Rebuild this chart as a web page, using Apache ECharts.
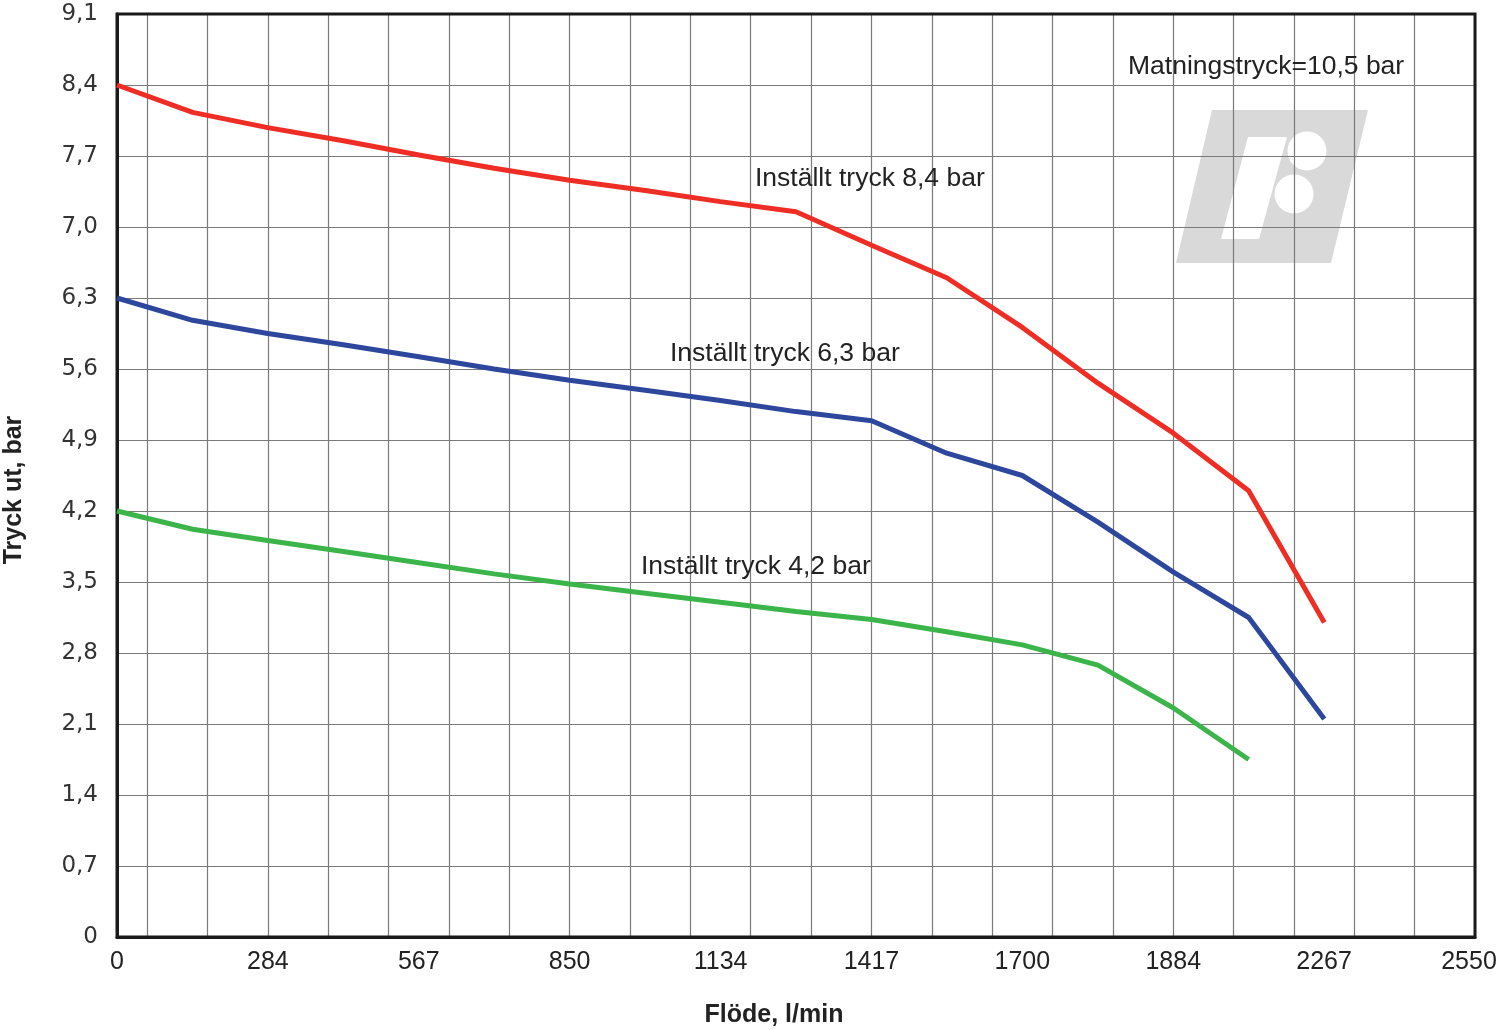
<!DOCTYPE html>
<html>
<head>
<meta charset="utf-8">
<script src="https://cdn.jsdelivr.net/npm/echarts@6/dist/echarts.min.js"></script>
<style>html,body{margin:0;padding:0;background:#fff;}#c{width:1500px;height:1030px;}</style>
</head>
<body>
<div id="c"></div>
<script>
// ---- data ----
const flow = [0, 142, 283, 425, 567, 708, 850, 992, 1133, 1275, 1417, 1558, 1700, 1842, 1983, 2125, 2267];
const set84 = [8.4, 8.13, 7.98, 7.85, 7.71, 7.58, 7.46, 7.36, 7.25, 7.15, 6.82, 6.50, 6.01, 5.46, 4.97, 4.40, 3.10];
const set63 = [6.3, 6.08, 5.95, 5.84, 5.72, 5.60, 5.49, 5.39, 5.29, 5.18, 5.09, 4.77, 4.55, 4.09, 3.60, 3.15, 2.15];
const set42 = [4.2, 4.02, 3.91, 3.80, 3.69, 3.58, 3.48, 3.39, 3.30, 3.21, 3.13, 3.01, 2.88, 2.68, 2.26, 1.75];
const xTickLabels = ['0', '284', '567', '850', '1134', '1417', '1700', '1884', '2267', '2550'];
const yTickLabels = ['0', '0,7', '1,4', '2,1', '2,8', '3,5', '4,2', '4,9', '5,6', '6,3', '7,0', '7,7', '8,4', '9,1'];
const seriesNames = ['Inställt tryck 8,4 bar', 'Inställt tryck 6,3 bar', 'Inställt tryck 4,2 bar'];
const xTitle = 'Flöde, l/min';
const yTitle = 'Tryck ut, bar';
const supplyText = 'Matningstryck=10,5 bar';

const xMax = 2550, xStep = 2550 / 9;
const yMax = 9.1, yStep = 0.7;

function pairs(xs, ys) { return ys.map((v, i) => [xs[i], v]); }

const chart = echarts.init(document.getElementById('c'));
const font = '"Liberation Sans", Arial, Helvetica, sans-serif';
const grey = '#d9d9d9';

chart.setOption({
  animation: false,
  backgroundColor: '#ffffff',
  grid: { left: 117, right: 25, top: 14, bottom: 93, containLabel: false, outerBoundsMode: 'none',
          show: true, borderColor: '#1a1a1a', borderWidth: 3, backgroundColor: 'transparent', z: 3 },
  xAxis: [
    {
      type: 'value', min: 0, max: xMax, interval: xStep, position: 'bottom',
      axisLine: { show: true, lineStyle: { color: '#1a1a1a', width: 3 } },
      axisTick: { show: false },
      splitLine: { show: false },
      axisLabel: {
        margin: 13, color: '#222', fontSize: 25, fontFamily: font,
        formatter: function (v) {
          const i = Math.round(v / xStep);
          return i === xTickLabels.length - 1 ? '{last|' + xTickLabels[i] + '}' : xTickLabels[i];
        },
        rich: { last: { color: '#222', fontSize: 25, fontFamily: font, padding: [0, 12, 0, 0] } }
      }
    },
    {
      // minor vertical grid: half-step offset from the left border
      type: 'value', min: 0, max: 22.5, interval: 1, inverse: true, position: 'top',
      axisLine: { show: false }, axisTick: { show: false }, axisLabel: { show: false },
      splitLine: { show: true, lineStyle: { color: '#7a7a7a', width: 1.2 } }
    }
  ],
  yAxis: {
    type: 'value', min: 0, max: yMax, interval: yStep,
    axisLine: { show: true, lineStyle: { color: '#1a1a1a', width: 3 } },
    axisTick: { show: false },
    splitLine: { show: true, lineStyle: { color: '#7a7a7a', width: 1.2 } },
    axisLabel: {
      margin: 19, color: '#333', fontSize: 23, fontFamily: '"DejaVu Sans", sans-serif',
      formatter: function (v) { return yTickLabels[Math.round(v / yStep)]; }
    }
  },
  series: [
    { name: seriesNames[0], type: 'line', data: pairs(flow, set84), showSymbol: false, lineStyle: { color: '#ee2e24', width: 5 }, z: 5 },
    { name: seriesNames[1], type: 'line', data: pairs(flow, set63), showSymbol: false, lineStyle: { color: '#2d479d', width: 5 }, z: 5 },
    { name: seriesNames[2], type: 'line', data: pairs(flow, set42), showSymbol: false, lineStyle: { color: '#3bb54a', width: 5 }, z: 5 }
  ],
  graphic: [
    // watermark logo (behind grid lines)
    { type: 'polygon', z: -10, shape: { points: [[1212, 110], [1368, 110], [1331, 263], [1176, 263]] }, style: { fill: grey } },
    { type: 'polygon', z: -9, shape: { points: [[1248, 137], [1287, 137], [1259, 239], [1221, 239]] }, style: { fill: '#fff' } },
    { type: 'circle', z: -9, shape: { cx: 1307, cy: 151, r: 19.5 }, style: { fill: '#fff' } },
    { type: 'circle', z: -9, shape: { cx: 1294, cy: 194, r: 19.5 }, style: { fill: '#fff' } },
    // annotations
    { type: 'text', z: 10, left: 1128, top: 53, style: { text: supplyText, font: '26.5px ' + font, fill: '#222' } },
    { type: 'text', z: 10, left: 755, top: 165, style: { text: seriesNames[0], font: '26.5px ' + font, fill: '#222' } },
    { type: 'text', z: 10, left: 670, top: 340, style: { text: seriesNames[1], font: '26.5px ' + font, fill: '#222' } },
    { type: 'text', z: 10, left: 641, top: 553, style: { text: seriesNames[2], font: '26.5px ' + font, fill: '#222' } },
    // axis titles
    { type: 'text', z: 10, x: 774, y: 1015, style: { text: xTitle, font: 'bold 25px ' + font, fill: '#222', align: 'center', verticalAlign: 'middle' } },
    { type: 'text', z: 10, x: 14, y: 490, rotation: Math.PI / 2, style: { text: yTitle, font: 'bold 25px ' + font, fill: '#222', align: 'center', verticalAlign: 'middle' } }
  ]
});
</script>
</body>
</html>
